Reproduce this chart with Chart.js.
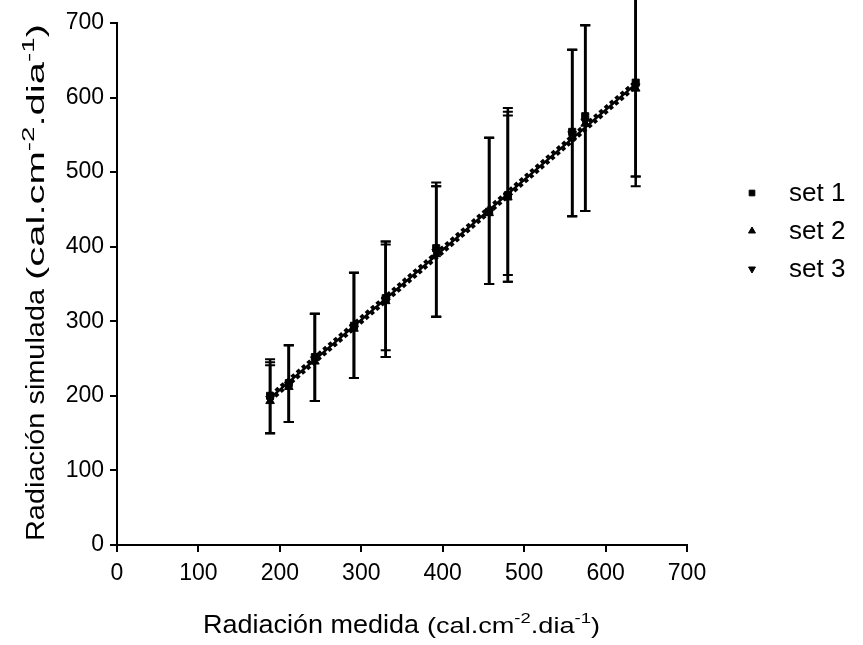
<!DOCTYPE html>
<html lang="es">
<head>
    <meta charset="UTF-8">
    <title>Radiación medida vs simulada</title>
    <style>
        body {
            margin: 0;
            background-color: #fff;
        }
        .wrap {
            position: relative;
            width: 863px;
            height: 645px;
        }
    </style>
    <script src="https://cdn.jsdelivr.net/npm/chart.js"></script>
</head>
<body>
    <div class="wrap">
        <canvas id="chart" width="863" height="645"></canvas>
    </div>

    <script>
        // datos
        const measured = [188, 211, 243, 291, 330, 392, 457, 480, 559, 575, 637];

        const set1Y = [200, 217, 252, 294, 331, 398, 447, 469, 554, 575, 620];
        const set2Y = [193, 212, 246, 290, 327, 390, 445, 466, 548, 565, 612];
        const set3Y = [196, 215, 249, 292, 329, 393, 446, 467, 551, 568, 615];

        const set1Lo = [150, 165, 193, 224, 261, 306, 350, 362, 441, 448, 494];
        const set1Hi = [249, 268, 310, 365, 407, 486, 546, 586, 664, 697, 780];
        const set2Lo = [150, 165, 193, 224, 252, 306, 350, 353, 441, 448, 481];
        const set2Hi = [245, 268, 310, 365, 403, 481, 546, 581, 664, 697, 780];
        const set3Lo = [150, 165, 193, 224, 252, 306, 350, 353, 441, 448, 494];
        const set3Hi = [241, 268, 310, 365, 407, 481, 546, 576, 664, 697, 780];

        // rectas de ajuste (extremos)
        const fitX = [188, 637];
        const fit1Y = [197, 618];
        const fit2Y = [201, 622];
        const fit3Y = [193, 614];

        const setLabels = ['set 1', 'set 2', 'set 3'];
        const axisMin = 0;
        const axisMax = 700;
        const axisStep = 100;

        const FONT = "'Liberation Sans', Arial, sans-serif";

        function toPoints(xs, ys) {
            return xs.map((x, i) => ({ x: x, y: ys[i] }));
        }

        function scatterSet(label, ys, lo, hi, style, rotation) {
            return {
                label: label,
                data: toPoints(measured, ys),
                errLo: lo,
                errHi: hi,
                pointStyle: style,
                rotation: rotation,
                pointRadius: 5,
                backgroundColor: '#000',
                borderColor: '#000',
                borderWidth: 1,
                showLine: false,
                clip: false
            };
        }

        function fitSet(ys, dash) {
            return {
                label: '',
                data: toPoints(fitX, ys),
                showLine: true,
                pointRadius: 0,
                borderColor: '#000',
                borderWidth: dash.length ? 3 : 2.5,
                borderDash: dash,
                fill: false
            };
        }

        // barras de error
        const errorBars = {
            id: 'errorBars',
            beforeDatasetsDraw(chart) {
                const ctx = chart.ctx;
                const xs = chart.scales.x, ys = chart.scales.y;
                ctx.save();
                ctx.strokeStyle = '#000';
                chart.data.datasets.forEach(ds => {
                    if (!ds.errLo) return;
                    ds.data.forEach((p, i) => {
                        const px = xs.getPixelForValue(p.x);
                        const top = ys.getPixelForValue(ds.errHi[i]);
                        const bot = ys.getPixelForValue(ds.errLo[i]);
                        ctx.lineWidth = 2.5;
                        ctx.beginPath();
                        ctx.moveTo(px, top);
                        ctx.lineTo(px, bot);
                        ctx.stroke();
                        ctx.lineWidth = 2;
                        ctx.beginPath();
                        ctx.moveTo(px - 5, top);
                        ctx.lineTo(px + 5, top);
                        ctx.moveTo(px - 5, bot);
                        ctx.lineTo(px + 5, bot);
                        ctx.stroke();
                    });
                });
                ctx.restore();
            }
        };

        // texto con superíndices, desde "start" con el largo indicado
        function drawRich(ctx, parts, start, base, length, rotate) {
            ctx.save();
            if (rotate) {
                ctx.translate(base, start);
                ctx.rotate(-Math.PI / 2);
            } else {
                ctx.translate(start, base);
            }
            let total = 0;
            parts.forEach(p => {
                ctx.font = p.size + 'px ' + FONT;
                total += ctx.measureText(p.text).width;
            });
            ctx.scale(length / total, 1);
            let cx = 0;
            ctx.fillStyle = '#000';
            ctx.textBaseline = 'alphabetic';
            ctx.textAlign = 'left';
            parts.forEach(p => {
                ctx.font = p.size + 'px ' + FONT;
                ctx.fillText(p.text, cx, p.dy || 0);
                cx += ctx.measureText(p.text).width;
            });
            ctx.restore();
        }

        function unitParts(size, sup) {
            return [
                { text: '(cal.cm', size: size },
                { text: '-2', size: sup, dy: -Math.round(size * 0.45) },
                { text: '.dia', size: size },
                { text: '-1', size: sup, dy: -Math.round(size * 0.45) },
                { text: ')', size: size }
            ];
        }

        const titlesAndLegend = {
            id: 'titlesAndLegend',
            afterDraw(chart) {
                const ctx = chart.ctx;
                // eje x
                drawRich(ctx, [{ text: 'Radiación medida', size: 26 }], 203, 633, 216, false);
                drawRich(ctx, unitParts(22, 15), 427, 633, 173, false);
                // eje y
                drawRich(ctx, [{ text: 'Radiación simulada', size: 26 }], 541, 44, 252, true);
                drawRich(ctx, unitParts(23, 16), 280, 44, 256, true);

                const rows = [193, 231, 269];
                const scat = chart.data.datasets.filter(d => d.errLo);
                ctx.save();
                scat.forEach((ds, i) => {
                    ctx.fillStyle = '#000';
                    ctx.strokeStyle = '#000';
                    Chart.helpers.drawPoint(ctx, {
                        pointStyle: ds.pointStyle,
                        rotation: ds.rotation,
                        radius: 4,
                        borderWidth: 1
                    }, 752, rows[i]);
                    ctx.font = '26px ' + FONT;
                    ctx.textBaseline = 'middle';
                    ctx.textAlign = 'left';
                    ctx.fillStyle = '#000';
                    ctx.fillText(setLabels[i], 789, rows[i] + 1);
                });
                ctx.restore();
            }
        };

        function axisOptions(pad) {
            return {
                type: 'linear',
                min: axisMin,
                max: axisMax,
                grid: {
                    drawOnChartArea: false,
                    drawTicks: true,
                    tickLength: 7,
                    color: '#000',
                    lineWidth: 2
                },
                border: { display: true, color: '#000', width: 2 },
                ticks: {
                    stepSize: axisStep,
                    color: '#000',
                    font: { family: FONT, size: 23 },
                    padding: pad
                }
            };
        }

        new Chart(document.getElementById('chart').getContext('2d'), {
            type: 'scatter',
            data: {
                datasets: [
                    scatterSet(setLabels[0], set1Y, set1Lo, set1Hi, 'rect', 0),
                    scatterSet(setLabels[1], set2Y, set2Lo, set2Hi, 'triangle', 0),
                    scatterSet(setLabels[2], set3Y, set3Lo, set3Hi, 'triangle', 180),
                    fitSet(fit2Y, [4, 3]),
                    fitSet(fit3Y, [4, 3]),
                    fitSet(fit1Y, [])
                ]
            },
            options: {
                responsive: false,
                animation: false,
                layout: { padding: { left: 0, right: 176, top: 23, bottom: 0 } },
                plugins: {
                    legend: { display: false },
                    tooltip: { enabled: false }
                },
                scales: {
                    x: Object.assign(axisOptions(8), {
                        position: 'bottom',
                        afterFit(scale) { scale.height = 100; }
                    }),
                    y: Object.assign(axisOptions(6), {
                        position: 'left',
                        afterFit(scale) { scale.width = 117; }
                    })
                }
            },
            plugins: [errorBars, titlesAndLegend]
        });
    </script>
</body>
</html>
